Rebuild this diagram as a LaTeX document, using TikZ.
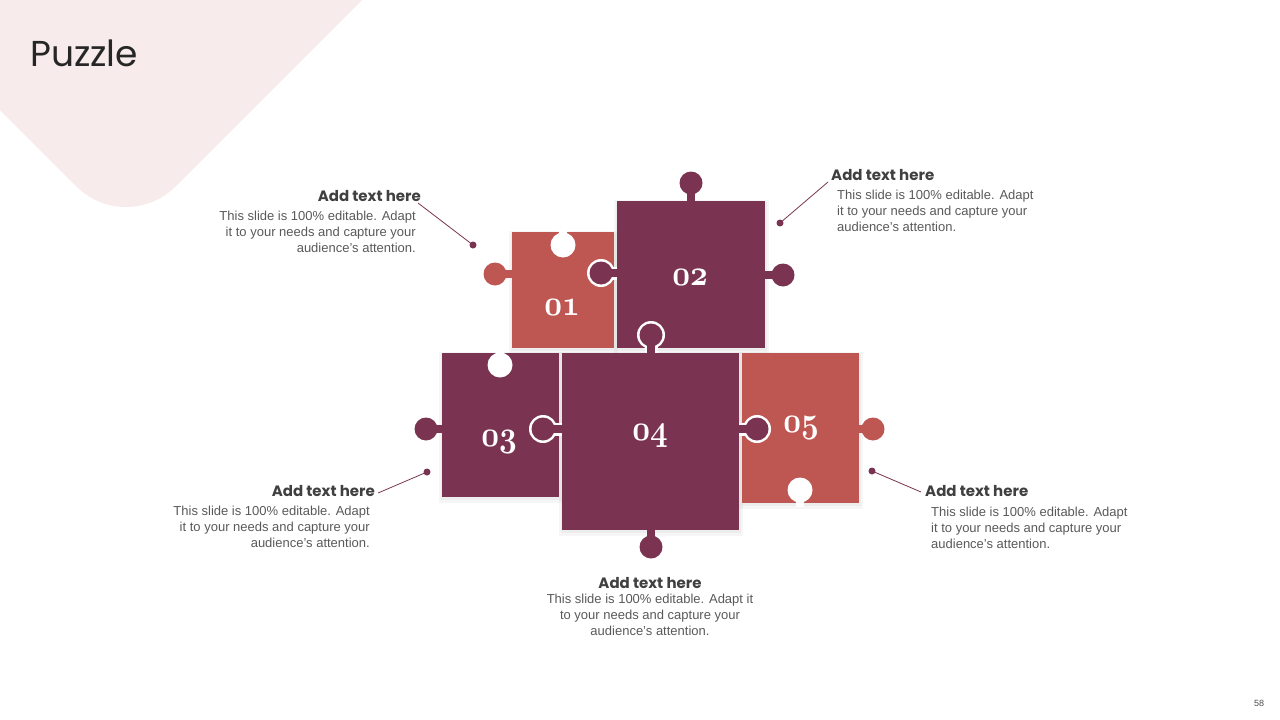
\documentclass[tikz,border=0pt]{standalone}
\usepackage{fontspec}
\setmainfont{Liberation Sans}
\newfontfamily\headfont{Poppins}
\definecolor{plum}{RGB}{122,52,81}
\definecolor{coral}{RGB}{190,86,82}
\definecolor{bgpink}{RGB}{247,235,235}
\definecolor{headgray}{RGB}{64,64,64}
\definecolor{bodygray}{RGB}{89,89,89}
\newcommand{\pzknob}[5]{\fill[#1] (#2,#3) circle[radius=11.5pt]; \draw[#1,line width=8pt] (#2,#3) -- (#4,#5);}
\newcommand{\pzhalo}[4]{\fill[white] (#1,#2) circle[radius=14pt]; \draw[white,line width=13pt] (#1,#2) -- (#3,#4);}
\newcommand{\pzhole}[4]{\fill[white] (#1,#2) circle[radius=12.5pt]; \draw[white,line width=8pt] (#1,#2) -- (#3,#4);}
\newcommand{\pzshadow}[4]{%
  \fill[black,opacity=0.035] (#1-3,#2-1) rectangle (#3+4,#4+6);
  \fill[black,opacity=0.035] (#1-1,#2+1) rectangle (#3+2,#4+3);}
\newcommand{\pznum}[1]{\scalebox{1.24}[1.45]{\fontsize{24.88}{28}\usefont{OML}{cmm}{b}{it}#1}}
\tikzset{
  headst/.style={font=\headfont\bfseries\fontsize{15}{18}\selectfont, text=headgray, inner sep=0pt},
  bodyst/.style={font=\fontsize{13}{16}\selectfont, text=bodygray, inner sep=0pt},
  numst/.style={text=white, inner sep=0pt},
  conn/.style={draw=plum, line width=0.8pt},
  dotst/.style={fill=plum}
}
\begin{document}
\begin{tikzpicture}[x=1pt,y=-1pt]
\useasboundingbox (0,0) rectangle (1280,720);
\begin{scope}
\clip (0,0) rectangle (1280,720);
\fill[bgpink, rounded corners=70pt] (-200,-200) -- (562,-200) -- (126,236) -- (-200,-90) -- cycle;
\end{scope}
\node[font=\headfont\fontsize{36}{42}\selectfont, text=black!85, inner sep=0pt, anchor=base west] (title) at (30,66) {Puzzle};
% shadows
\pzshadow{512}{232}{614}{348}
\pzshadow{617}{201}{765}{348}
\pzshadow{442}{353}{559}{497}
\pzshadow{742}{353}{859}{503}
\pzshadow{562}{353}{739}{530}
% piece 01
\fill[coral] (512,232) rectangle (614,348);
\pzknob{coral}{495}{274}{513}{274}
\pzhole{563}{245}{563}{228}
% piece 03
\fill[plum] (442,353) rectangle (559,497);
\pzknob{plum}{426}{429}{443}{429}
\pzhole{500}{365}{500}{349}
% piece 05
\fill[coral] (742,353) rectangle (859,503);
\pzknob{coral}{873}{429}{858}{429}
\pzhole{800}{490}{800}{507}
% piece 02
\pzhalo{601}{273}{617}{273}
\fill[plum] (617,201) rectangle (765,348);
\pzknob{plum}{691}{183}{691}{202}
\pzknob{plum}{783}{275}{764}{275}
\pzknob{plum}{601}{273}{618}{273}
% piece 04
\pzhalo{651}{335}{651}{353}
\pzhalo{543}{429}{562}{429}
\pzhalo{757}{429}{739}{429}
\fill[plum] (562,353) rectangle (739,530);
\pzknob{plum}{651}{335}{651}{354}
\pzknob{plum}{543}{429}{563}{429}
\pzknob{plum}{757}{429}{738}{429}
\pzknob{plum}{651}{547}{651}{529}
% numbers
\node[numst] (n1) at (562,307) {\pznum{01}};
\node[numst] (n2) at (690,277) {\pznum{02}};
\node[numst] (n3) at (499,442) {\pznum{03}};
\node[numst] (n4) at (650,436) {\pznum{04}};
\node[numst] (n5) at (801,428) {\pznum{05}};
% text blocks
\node[headst, anchor=base east] (h1) at (421,201) {Add text here};
\node[bodyst, align=right, anchor=north east] (b1) at (416,211) {This slide is 100\% editable. Adapt\\it to your needs and capture your\\audience's attention.};
\node[headst, anchor=base west] (h2) at (831,180) {Add text here};
\node[bodyst, align=left, anchor=north west] (b2) at (837,190) {This slide is 100\% editable. Adapt\\it to your needs and capture your\\audience's attention.};
\node[headst, anchor=base east] (h3) at (375,496) {Add text here};
\node[bodyst, align=right, anchor=north east] (b3) at (370,506) {This slide is 100\% editable. Adapt\\it to your needs and capture your\\audience's attention.};
\node[headst, anchor=base west] (h4) at (925,496) {Add text here};
\node[bodyst, align=left, anchor=north west] (b4) at (931,507) {This slide is 100\% editable. Adapt\\it to your needs and capture your\\audience's attention.};
\node[headst, anchor=base] (h5) at (650,588) {Add text here};
\node[bodyst, align=center, anchor=north] (b5) at (650,594) {This slide is 100\% editable. Adapt it\\to your needs and capture your\\audience's attention.};
% connectors
\coordinate (e1) at (418,203); \coordinate (d1) at (473,245);
\coordinate (e2) at (828,182); \coordinate (d2) at (780,223);
\coordinate (e3) at (378,493); \coordinate (d3) at (427,472);
\coordinate (e4) at (921,492); \coordinate (d4) at (872,471);
\draw[conn] (e1) -- (d1); \fill[dotst] (d1) circle[radius=3.5pt];
\draw[conn] (e2) -- (d2); \fill[dotst] (d2) circle[radius=3.5pt];
\draw[conn] (e3) -- (d3); \fill[dotst] (d3) circle[radius=3.5pt];
\draw[conn] (e4) -- (d4); \fill[dotst] (d4) circle[radius=3.5pt];
\node[font=\fontsize{9}{10}\selectfont, text=black!70, inner sep=0pt] (pg) at (1259,703) {58};
\end{tikzpicture}
\end{document}
